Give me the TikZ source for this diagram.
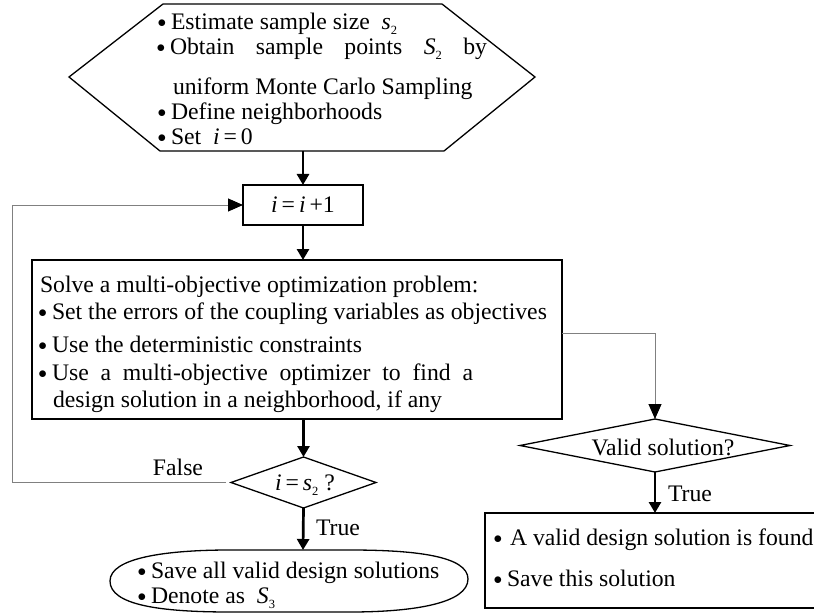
\documentclass[tikz,border=0pt]{standalone}
\usepackage{fontspec}
\setmainfont{Liberation Serif}
\usetikzlibrary{arrows.meta,shapes.geometric}
\newcommand\bul{\makebox[11pt][l]{\hspace{-2.5pt}\raisebox{2pt}{\fontsize{19}{19}\selectfont$\bullet$}}}
\newcommand\iv[1]{\textit{#1}}
\newcommand\sbs[1]{\raisebox{-5pt}{\fontsize{12.5}{12.5}\selectfont #1}}
\begin{document}
\begin{tikzpicture}[x=1pt,y=-1pt,
  every node/.style={font=\fontsize{23.7}{26}\selectfont, inner sep=0pt, outer sep=0pt},
  txt/.style={anchor=base west},
  ctxt/.style={anchor=base},
  boxline/.style={line width=1.3pt},
  flow/.style={line width=2.7pt, -{Triangle[length=11pt,width=12pt]}},
  thin/.style={draw=gray, line width=1pt, -{Triangle[length=15pt,width=13pt,color=black]}}]
\clip (0,0) rectangle (814,615);
\fill[white] (0,0) rectangle (814,615);

% hexagon
\draw[boxline] (163,4) -- (442,4) -- (535,77) -- (444,151) -- (160,151) -- (69,77) -- cycle;
\coordinate (hexS) at (303,151);
\node[txt] (h1) at (160,30) {\bul Estimate sample size \ \iv{s}\sbs{2}};
\node[txt] (h2) at (159,55) {\bul\makebox[317pt][s]{Obtain sample points \iv{S}\sbs{2} by}};
\node[txt] (h3) at (173,95) {uniform Monte Carlo Sampling};
\node[txt] (h4) at (160,120) {\bul Define neighborhoods};
\node[txt] (h5) at (160,145) {\bul Set \ \iv{i}\,=\,0};

% increment
\node[draw, boxline, minimum width=120pt, minimum height=40pt] (inc) at (303,205) {\iv{i}\,=\,\iv{i}\,+1};

% optimisation box
\node[draw, boxline, minimum width=530pt, minimum height=159pt, anchor=north west] (opt) at (32,260) {};
\node[txt] (o1) at (40,292) {Solve a multi-objective optimization problem:};
\node[txt] (o2) at (41,319) {\bul Set the errors of the coupling variables as objectives};
\node[txt] (o3) at (41,352) {\bul Use the deterministic constraints};
\node[txt] (o4) at (41,380) {\bul\makebox[421pt][s]{Use a multi-objective optimizer to find a}};
\node[txt] (o5) at (53,407) {design solution in a neighborhood, if any};

% decision i = s2
\node[diamond, draw, boxline, minimum width=145pt, minimum height=51pt] (dec1) at (303.5,482.5) {};
\node[ctxt] (d1t) at (305,490) {\iv{i}\,=\,\iv{s}\sbs{2}\ ?};
\node[ctxt] (false) at (178,475) {False};
\node[ctxt] (true1) at (338,535) {True};

% final rounded terminator
\draw[boxline] (110,581) .. controls (110,558) and (165,550) .. (230,550) -- (350,550)
  .. controls (415,550) and (468,556) .. (468,579) .. controls (468,603) and (415,612) .. (350,612)
  -- (230,612) .. controls (160,612) and (110,605) .. cycle;
\coordinate (finN) at (303,550);
\node[txt] (f1) at (140,578) {\bul Save all valid design solutions};
\node[txt] (f2) at (140,603) {\bul Denote as \ \iv{S}\sbs{3}};

% decision valid
\node[diamond, draw, boxline, minimum width=270pt, minimum height=53pt] (dec2) at (655,445.5) {};
\node[ctxt] (d2t) at (663,455) {Valid solution?};
\node[ctxt] (true2) at (690,501) {True};

% result box
\node[draw, boxline, minimum width=370pt, minimum height=95pt, anchor=north west] (res) at (485,513) {};
\node[txt] (r1) at (496,545) {\bul\hspace{3pt}A valid design solution is found};
\node[txt] (r2) at (496,586) {\bul Save this solution};

% connectors
\coordinate (loopL) at (12,0);
\coordinate (tapR) at (562,333);
\draw[flow] (hexS) -- (inc.north);
\draw[flow] (inc.south) -- (inc.south |- opt.north);
\draw[flow] (dec1.north |- opt.south) -- (dec1.north);
\draw[flow] (dec1.south) -- (finN);
\draw[thin] ([xshift=-5pt]dec1.west) -- (dec1.west -| loopL) |- (inc.west);
\draw[thin] (tapR) -| (dec2.north);
\draw[flow] (dec2.south) -- (dec2.south |- res.north);
\end{tikzpicture}
\end{document}
